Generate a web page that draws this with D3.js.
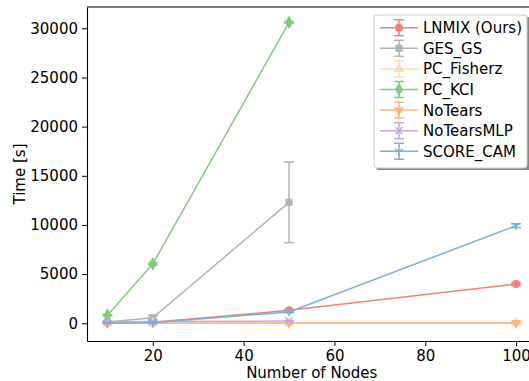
<!DOCTYPE html>
<html>
<head>
<meta charset="utf-8">
<script src="https://cdn.jsdelivr.net/npm/d3@7"></script>
<style>
  body { margin: 0; background: #fff; }
  svg { font-family: "DejaVu Sans", sans-serif; }
</style>
</head>
<body>
<div id="chart"></div>
<script>
// chart size (matches the screenshot)
const W = 529, H = 381;
const margin = {top: 7, left: 87, bottom: 40};
const fs = 15;

// data
const names = ["LNMIX (Ours)", "GES_GS", "PC_Fisherz", "PC_KCI", "NoTears", "NoTearsMLP", "SCORE_CAM"];
const colors = ["#ee8274", "#b3b3b3", "#ffdcb4", "#80cc7a", "#ffb871", "#c6a8e2", "#76b2dc"];
const markers = ["circle", "square", "triangle", "diamond", "triangleDown", "cross", "tri"];

const lnmixX = [10, 20, 50, 100], lnmixY = [20, 110, 1320, 4000], lnmixErr = [5, 20, 80, 120];
const gesX = [10, 20, 50], gesY = [120, 560, 12300], gesErr = [40, 200, 4100];
const fisherX = [10, 20, 50, 100], fisherY = [5, 8, 15, 30], fisherErr = [2, 3, 5, 10];
const kciX = [10, 20, 50], kciY = [820, 6050, 30600], kciErr = [60, 120, 80];
const notearsX = [10, 20, 50, 100], notearsY = [8, 12, 20, 25], notearsErr = [3, 4, 5, 8];
const mlpX = [10, 20, 50], mlpY = [170, 190, 230], mlpErr = [20, 30, 30];
const scoreX = [10, 20, 50, 100], scoreY = [10, 60, 1150, 9930], scoreErr = [5, 15, 60, 200];

const xTicks = [20, 40, 60, 80, 100];
const yTicks = [0, 5000, 10000, 15000, 20000, 25000, 30000];

const series = [
  {x: lnmixX, y: lnmixY, e: lnmixErr},
  {x: gesX, y: gesY, e: gesErr},
  {x: fisherX, y: fisherY, e: fisherErr},
  {x: kciX, y: kciY, e: kciErr},
  {x: notearsX, y: notearsY, e: notearsErr},
  {x: mlpX, y: mlpY, e: mlpErr},
  {x: scoreX, y: scoreY, e: scoreErr}
].map((s, i) => ({name: names[i], color: colors[i], marker: markers[i],
  points: s.x.map((x, j) => ({x: x, y: s.y[j], e: s.e[j]}))}));

const svg = d3.select("#chart").append("svg")
    .attr("width", W)
    .attr("height", H);

const x = d3.scaleLinear().domain([5.5, 104.5]).range([margin.left, 536.5]);
const y = d3.scaleLinear().domain([-1800, 32166]).range([H - margin.bottom, margin.top]);

// axes
svg.append("g")
    .attr("transform", "translate(0," + (H - margin.bottom) + ")")
    .call(d3.axisBottom(x).tickValues(xTicks).tickSize(5).tickPadding(4).tickSizeOuter(0))
    .call(g => g.selectAll("text").attr("font-size", fs).attr("fill", "#000").attr("font-family", "DejaVu Sans"))
    .call(g => g.select(".domain").attr("stroke-width", 1.1));

svg.append("g")
    .attr("transform", "translate(" + margin.left + ",0)")
    .call(d3.axisLeft(y).tickValues(yTicks).tickFormat(d3.format("d")).tickSize(5).tickPadding(4).tickSizeOuter(0))
    .call(g => g.selectAll("text").attr("font-size", fs).attr("fill", "#000").attr("font-family", "DejaVu Sans"))
    .call(g => g.select(".domain").attr("stroke-width", 1.1));

// top spine (right one falls outside the picture)
svg.append("line")
    .attr("x1", margin.left).attr("x2", W)
    .attr("y1", margin.top).attr("y2", margin.top)
    .attr("stroke", "#000").attr("stroke-width", 1.1);

// axis labels
svg.append("text")
    .attr("x", (margin.left + 536.5) / 2).attr("y", 378)
    .attr("text-anchor", "middle").attr("font-size", fs)
    .text("Number of Nodes");

svg.append("text")
    .attr("transform", "translate(25," + (H - margin.bottom + margin.top) / 2 + ") rotate(-90)")
    .attr("text-anchor", "middle").attr("font-size", fs)
    .text("Time [s]");

// marker drawing
function drawMarker(g, type, cx, cy, color) {
  const sym = {
    circle: d3.symbolCircle, square: d3.symbolSquare, triangle: d3.symbolTriangle,
    diamond: d3.symbolDiamond
  };
  if (type === "triangleDown") {
    g.append("path").attr("d", d3.symbol(d3.symbolTriangle, 45)())
      .attr("transform", "translate(" + cx + "," + cy + ") rotate(180)")
      .attr("fill", color);
  } else if (type === "cross") {
    g.append("path").attr("d", "M-3.5,-3.5L3.5,3.5M-3.5,3.5L3.5,-3.5")
      .attr("transform", "translate(" + cx + "," + cy + ")")
      .attr("stroke", color).attr("stroke-width", 1.5).attr("fill", "none");
  } else if (type === "tri") {
    g.append("path").attr("d", "M0,0L0,4.5M0,0L-4,-2.5M0,0L4,-2.5")
      .attr("transform", "translate(" + cx + "," + cy + ")")
      .attr("stroke", color).attr("stroke-width", 1.5).attr("fill", "none");
  } else {
    const size = type === "diamond" ? 55 : 50;
    g.append("path").attr("d", d3.symbol(sym[type], size)())
      .attr("transform", "translate(" + cx + "," + cy + ")")
      .attr("fill", color);
  }
}

function drawErr(g, cx, y0, y1, color) {
  g.append("line").attr("x1", cx).attr("x2", cx).attr("y1", y0).attr("y2", y1)
    .attr("stroke", color).attr("stroke-width", 1.5);
  [y0, y1].forEach(v => g.append("line")
    .attr("x1", cx - 5).attr("x2", cx + 5).attr("y1", v).attr("y2", v)
    .attr("stroke", color).attr("stroke-width", 1.5));
}

const line = d3.line().x(d => x(d.x)).y(d => y(d.y));

const plot = svg.append("g");
series.forEach(s => {
  const g = plot.append("g");
  g.append("path").datum(s.points)
    .attr("d", line)
    .attr("fill", "none")
    .attr("stroke", s.color)
    .attr("stroke-width", 1.5);
  s.points.forEach(p => {
    drawErr(g, x(p.x), y(p.y - p.e), y(p.y + p.e), s.color);
    drawMarker(g, s.marker, x(p.x), y(p.y), s.color);
  });
});

// legend
const leg = svg.append("g").attr("transform", "translate(374,15)");
leg.append("rect")
    .attr("x", 2).attr("y", 2).attr("width", 155).attr("height", 153).attr("rx", 3)
    .attr("fill", "#888");
leg.append("rect")
    .attr("x", 0).attr("y", 0).attr("width", 153).attr("height", 153).attr("rx", 3)
    .attr("fill", "#fff").attr("stroke", "#ccc").attr("stroke-width", 1);

series.forEach((s, i) => {
  const ly = 12.7 + i * 20.6;
  const g = leg.append("g");
  g.append("line").attr("x1", 6).attr("x2", 44).attr("y1", ly).attr("y2", ly)
    .attr("stroke", s.color).attr("stroke-width", 1.5);
  drawErr(g, 25, ly + 8, ly - 8, s.color);
  drawMarker(g, s.marker, 25, ly, s.color);
  g.append("text").attr("x", 49).attr("y", ly + 5.5)
    .attr("font-size", fs).text(s.name);
});
</script>
</body>
</html>
